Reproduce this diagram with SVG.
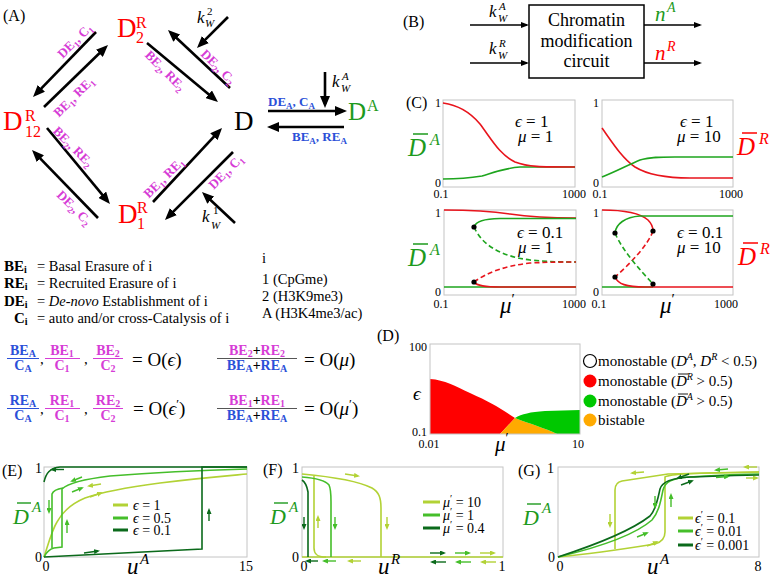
<svg xmlns="http://www.w3.org/2000/svg" width="773" height="580" viewBox="0 0 773 580">
<style>
text{font-family:"Liberation Serif","DejaVu Serif",serif;fill:#000}
.i{font-style:italic}
.b{font-weight:bold}
.mg{fill:#d63cd6;font-weight:bold;font-size:13px}
.mgf{fill:#d63cd6;font-weight:bold}
.bl{fill:#2b50d8;font-weight:bold}
.red{fill:#ff0000}
.grn{fill:#1d9a1d}
.ax{font-size:12px}
.ax2{font-size:14px}
.frame{fill:none;stroke:#c4c4c4;stroke-width:1}
.ar{stroke:#000;stroke-width:2.6;fill:none;marker-end:url(#ah)}
.ar2{stroke:#000;stroke-width:1.3;fill:none;marker-end:url(#ah2)}
.cr{fill:none;stroke:#e8141c;stroke-width:1.6}
.cg{fill:none;stroke:#1ea51e;stroke-width:1.6}
.dash{stroke-dasharray:5 3}
.lL{fill:none;stroke:#b2d235;stroke-width:1.6}
.lM{fill:none;stroke:#45be2a;stroke-width:1.6}
.lD{fill:none;stroke:#0b6a1b;stroke-width:1.6}
.aL{stroke:#b2d235;stroke-width:1.4;marker-end:url(#sL)}
.aM{stroke:#45be2a;stroke-width:1.4;marker-end:url(#sM)}
.aD{stroke:#0b6a1b;stroke-width:1.4;marker-end:url(#sD)}
</style>
<defs>
<marker id="ah" markerUnits="userSpaceOnUse" markerWidth="12" markerHeight="10" viewBox="0 0 12 10" refX="8" refY="5" orient="auto"><path d="M0,0 L12,5 L0,10 Z" fill="#000"/></marker>
<marker id="ah2" markerUnits="userSpaceOnUse" markerWidth="8" markerHeight="6" viewBox="0 0 8 6" refX="6" refY="3" orient="auto"><path d="M0,0 L8,3 L0,6 Z" fill="#000"/></marker>
<marker id="sL" markerUnits="userSpaceOnUse" markerWidth="6" markerHeight="5" viewBox="0 0 6 5" refX="4" refY="2.5" orient="auto"><path d="M0,0 L6,2.5 L0,5 Z" fill="#b2d235"/></marker>
<marker id="sM" markerUnits="userSpaceOnUse" markerWidth="6" markerHeight="5" viewBox="0 0 6 5" refX="4" refY="2.5" orient="auto"><path d="M0,0 L6,2.5 L0,5 Z" fill="#45be2a"/></marker>
<marker id="sD" markerUnits="userSpaceOnUse" markerWidth="6" markerHeight="5" viewBox="0 0 6 5" refX="4" refY="2.5" orient="auto"><path d="M0,0 L6,2.5 L0,5 Z" fill="#0b6a1b"/></marker>
</defs>
<rect width="773" height="580" fill="#fff"/>

<!-- Panel A -->
<text x="3" y="21" font-size="16">(A)</text>
<g id="node-D2R"><text class="red" x="117" y="37" font-size="27">D</text><text class="red" x="136" y="28" font-size="16">R</text><text class="red" x="136" y="43" font-size="16">2</text></g>
<g id="node-D12R"><text class="red" x="3" y="130" font-size="27">D</text><text class="red" x="25" y="121" font-size="16">R</text><text class="red" x="25" y="137" font-size="16">12</text></g>
<g id="node-D1R"><text class="red" x="118" y="223" font-size="27">D</text><text class="red" x="137" y="213" font-size="16">R</text><text class="red" x="137" y="229" font-size="16">1</text></g>
<g id="node-D"><text x="234" y="130" font-size="27">D</text></g>
<g id="node-DA"><text class="grn" x="348" y="120" font-size="25">D</text><text class="grn" x="367" y="111" font-size="16">A</text></g>

<g id="connectors">
<line class="ar" x1="96" y1="32" x2="35.8" y2="94.1"/>
<line class="ar" x1="44" y1="107" x2="105.1" y2="47.8"/>
<line class="ar" x1="230" y1="88" x2="170.9" y2="32.7"/>
<line class="ar" x1="147" y1="43" x2="214.9" y2="99.4"/>
<line class="ar" x1="98" y1="218" x2="34.8" y2="152.9"/>
<line class="ar" x1="47" y1="128" x2="107.4" y2="200.9"/>
<line class="ar" x1="153" y1="202" x2="219.3" y2="130.9"/>
<line class="ar" x1="233" y1="152" x2="167.8" y2="217.2"/>
<line class="ar" x1="228" y1="17" x2="199.8" y2="45.2"/>
<line class="ar" x1="235" y1="223" x2="204.9" y2="194.7"/>
<line class="ar" x1="268" y1="111" x2="343" y2="111"/>
<line class="ar" x1="344" y1="127" x2="271" y2="127"/>
<line class="ar" x1="325" y1="72" x2="325" y2="104"/>
<!-- edge labels -->
<text class="mg" text-anchor="middle" transform="translate(75,41) rotate(-45)" y="4">DE<tspan font-size="9" dy="3">1</tspan><tspan dy="-3">, C</tspan><tspan font-size="9" dy="3">1</tspan></text>
<text class="mg" text-anchor="middle" transform="translate(74,97) rotate(-45)" y="4">BE<tspan font-size="9" dy="3">1</tspan><tspan dy="-3">, RE</tspan><tspan font-size="9" dy="3">1</tspan></text>
<text class="mg" text-anchor="middle" transform="translate(165,71) rotate(45)" y="4">BE<tspan font-size="9" dy="3">2</tspan><tspan dy="-3">, RE</tspan><tspan font-size="9" dy="3">2</tspan></text>
<text class="mg" text-anchor="middle" transform="translate(218,67) rotate(45)" y="4">DE<tspan font-size="9" dy="3">2</tspan><tspan dy="-3">, C</tspan><tspan font-size="9" dy="3">2</tspan></text>
<text class="mg" text-anchor="middle" transform="translate(73,147) rotate(45)" y="4">BE<tspan font-size="9" dy="3">2</tspan><tspan dy="-3">, RE</tspan><tspan font-size="9" dy="3">2</tspan></text>
<text class="mg" text-anchor="middle" transform="translate(74,208) rotate(45)" y="4">DE<tspan font-size="9" dy="3">2</tspan><tspan dy="-3">, C</tspan><tspan font-size="9" dy="3">2</tspan></text>
<text class="mg" text-anchor="middle" transform="translate(164,178) rotate(-45)" y="4">BE<tspan font-size="9" dy="3">1</tspan><tspan dy="-3">, RE</tspan><tspan font-size="9" dy="3">1</tspan></text>
<text class="mg" text-anchor="middle" transform="translate(226,172) rotate(-45)" y="4">DE<tspan font-size="9" dy="3">1</tspan><tspan dy="-3">, C</tspan><tspan font-size="9" dy="3">1</tspan></text>
<text class="bl" x="268" y="106" font-size="13">DE<tspan font-size="9" dy="3">A</tspan><tspan dy="-3">, C</tspan><tspan font-size="9" dy="3">A</tspan></text>
<text class="bl" x="292" y="141" font-size="13">BE<tspan font-size="9" dy="3">A</tspan><tspan dy="-3">, RE</tspan><tspan font-size="9" dy="3">A</tspan></text>
<!-- k labels -->
<text class="i" x="197" y="23" font-size="17">k</text><text x="207" y="15" font-size="11">2</text><text class="i" x="205" y="27" font-size="11">W</text>
<text class="i" x="202" y="222" font-size="17">k</text><text x="213" y="214" font-size="11">1</text><text class="i" x="211" y="229" font-size="11">W</text>
<text class="i" x="332" y="87" font-size="17">k</text><text class="i" x="342" y="80" font-size="11">A</text><text class="i" x="341" y="92" font-size="11">W</text>
</g>

<!-- Legend of A -->
<g id="legend-A">
<text class="b" x="4" y="271" font-size="15">BE<tspan font-size="10" dy="2">i</tspan></text><text x="37" y="271" font-size="14.5">= Basal Erasure of i</text>
<text class="b" x="4" y="288" font-size="15">RE<tspan font-size="10" dy="2">i</tspan></text><text x="37" y="288" font-size="14.5">= Recruited Erasure of i</text>
<text class="b" x="4" y="306" font-size="15">DE<tspan font-size="10" dy="2">i</tspan></text><text x="37" y="306" font-size="14.5">= <tspan class="i">De-novo</tspan> Establishment of i</text>
<text class="b" x="14" y="323" font-size="15">C<tspan font-size="10" dy="2">i</tspan></text><text x="37" y="323" font-size="14.5">= auto and/or cross-Catalysis of i</text>
<text x="262" y="263" font-size="14.5">i</text>
<text x="262" y="284" font-size="14.5">1 (CpGme)</text>
<text x="262" y="301" font-size="14.5">2 (H3K9me3)</text>
<text x="262" y="318" font-size="14.5">A (H3K4me3/ac)</text>
</g>

<g id="formulas">
<text class="bl" x="23" y="355" font-size="14" text-anchor="middle">BE<tspan font-size="10" dy="2">A</tspan></text>
<line x1="7" y1="358.5" x2="39" y2="358.5" stroke="#2b50d8" stroke-width="1"/>
<text class="bl" x="23" y="370" font-size="14" text-anchor="middle">C<tspan font-size="10" dy="2">A</tspan></text>
<text x="40" y="364" font-size="15">,</text>
<text class="mgf" x="62" y="355" font-size="14" text-anchor="middle">BE<tspan font-size="10" dy="2">1</tspan></text>
<line x1="45" y1="358.5" x2="80" y2="358.5" stroke="#d63cd6" stroke-width="1"/>
<text class="mgf" x="62" y="370" font-size="14" text-anchor="middle">C<tspan font-size="10" dy="2">1</tspan></text>
<text x="84" y="364" font-size="15">,</text>
<text class="mgf" x="108" y="355" font-size="14" text-anchor="middle">BE<tspan font-size="10" dy="2">2</tspan></text>
<line x1="93" y1="358.5" x2="123" y2="358.5" stroke="#d63cd6" stroke-width="1"/>
<text class="mgf" x="108" y="370" font-size="14" text-anchor="middle">C<tspan font-size="10" dy="2">2</tspan></text>
<text x="132" y="366" font-size="19">= O(<tspan class="i">ϵ</tspan>)</text>

<text class="bl" x="23" y="405" font-size="14" text-anchor="middle">RE<tspan font-size="10" dy="2">A</tspan></text>
<line x1="7" y1="408.5" x2="39" y2="408.5" stroke="#2b50d8" stroke-width="1"/>
<text class="bl" x="23" y="420" font-size="14" text-anchor="middle">C<tspan font-size="10" dy="2">A</tspan></text>
<text x="40" y="414" font-size="15">,</text>
<text class="mgf" x="62" y="405" font-size="14" text-anchor="middle">RE<tspan font-size="10" dy="2">1</tspan></text>
<line x1="45" y1="408.5" x2="80" y2="408.5" stroke="#d63cd6" stroke-width="1"/>
<text class="mgf" x="62" y="420" font-size="14" text-anchor="middle">C<tspan font-size="10" dy="2">1</tspan></text>
<text x="84" y="414" font-size="15">,</text>
<text class="mgf" x="108" y="405" font-size="14" text-anchor="middle">RE<tspan font-size="10" dy="2">2</tspan></text>
<line x1="93" y1="408.5" x2="123" y2="408.5" stroke="#d63cd6" stroke-width="1"/>
<text class="mgf" x="108" y="420" font-size="14" text-anchor="middle">C<tspan font-size="10" dy="2">2</tspan></text>
<text x="133" y="415" font-size="19">= O(<tspan class="i">ϵ</tspan><tspan font-size="13" dy="-7">′</tspan><tspan dy="7">)</tspan></text>

<text x="257" y="355" font-size="14" text-anchor="middle" class="b"><tspan class="mgf">BE</tspan><tspan class="mgf" font-size="10" dy="2">2</tspan><tspan dy="-2">+</tspan><tspan class="mgf">RE</tspan><tspan class="mgf" font-size="10" dy="2">2</tspan></text>
<line x1="217" y1="358.5" x2="297" y2="358.5" stroke="#555" stroke-width="1"/>
<text x="257" y="370" font-size="14" text-anchor="middle" class="b"><tspan class="bl">BE</tspan><tspan class="bl" font-size="10" dy="2">A</tspan><tspan dy="-2">+</tspan><tspan class="bl">RE</tspan><tspan class="bl" font-size="10" dy="2">A</tspan></text>
<text x="304" y="366" font-size="19">= O(<tspan class="i">μ</tspan>)</text>
<text x="257" y="405" font-size="14" text-anchor="middle" class="b"><tspan class="mgf">BE</tspan><tspan class="mgf" font-size="10" dy="2">1</tspan><tspan dy="-2">+</tspan><tspan class="mgf">RE</tspan><tspan class="mgf" font-size="10" dy="2">1</tspan></text>
<line x1="217" y1="408.5" x2="297" y2="408.5" stroke="#555" stroke-width="1"/>
<text x="257" y="420" font-size="14" text-anchor="middle" class="b"><tspan class="bl">BE</tspan><tspan class="bl" font-size="10" dy="2">A</tspan><tspan dy="-2">+</tspan><tspan class="bl">RE</tspan><tspan class="bl" font-size="10" dy="2">A</tspan></text>
<text x="304" y="415" font-size="19">= O(<tspan class="i">μ</tspan><tspan font-size="13" dy="-7">′</tspan><tspan dy="7">)</tspan></text>
</g>

<!-- Panel B -->
<g id="panel-B">
<text x="403" y="27" font-size="16">(B)</text>
<g id="node-circuit"><rect x="529" y="5" width="115" height="73" fill="#fff" stroke="#000" stroke-width="1.5"/>
<text x="586.5" y="26" font-size="18" text-anchor="middle">Chromatin</text>
<text x="586.5" y="47" font-size="18" text-anchor="middle">modification</text>
<text x="586.5" y="67" font-size="18" text-anchor="middle">circuit</text></g>
<line class="ar2" x1="470" y1="25" x2="527" y2="25"/>
<line class="ar2" x1="470" y1="63" x2="527" y2="63"/>
<line class="ar2" x1="644" y1="25" x2="700" y2="25"/>
<line class="ar2" x1="644" y1="63" x2="700" y2="63"/>
<text class="i" x="489" y="17" font-size="17">k</text><text class="i" x="499" y="10" font-size="11">A</text><text class="i" x="498" y="22" font-size="11">W</text>
<text class="i" x="489" y="54" font-size="17">k</text><text class="i" x="499" y="47" font-size="11">R</text><text class="i" x="498" y="59" font-size="11">W</text>
<text class="i grn" x="655" y="21" font-size="21">n</text><text class="i grn" x="667" y="12" font-size="14">A</text>
<text class="i red" x="655" y="60" font-size="21">n</text><text class="i red" x="667" y="51" font-size="14">R</text>
</g>

<!-- Panel C -->
<g id="panel-C">
<text x="406" y="108" font-size="16">(C)</text>
<rect class="frame" x="443" y="100" width="132" height="87"/>
<rect class="frame" x="602" y="100" width="131" height="87"/>
<rect class="frame" x="444" y="210" width="132" height="85"/>
<rect class="frame" x="602" y="210" width="131" height="85"/>
<g class="ax">
<text x="441" y="107" text-anchor="end">1</text><text x="441" y="187" text-anchor="end">0</text>
<text x="441" y="198" text-anchor="middle">0.1</text><text x="574" y="198" text-anchor="middle">1000</text>
<text x="599" y="107" text-anchor="end">1</text><text x="599" y="187" text-anchor="end">0</text>
<text x="600" y="198" text-anchor="middle">0.1</text><text x="731" y="198" text-anchor="middle">1000</text>
<text x="441" y="217" text-anchor="end">1</text><text x="441" y="296" text-anchor="end">0</text>
<text x="441" y="308" text-anchor="middle">0.1</text><text x="574" y="308" text-anchor="middle">1000</text>
<text x="599" y="217" text-anchor="end">1</text><text x="599" y="296" text-anchor="end">0</text>
<text x="599" y="308" text-anchor="middle">0.1</text><text x="726" y="308" text-anchor="middle">1000</text>
</g>
<!-- plot 1 -->
<path class="cg" d="M443,179 C460,179 470,178 482,176 C495,172 505,168 520,167 L575,167"/>
<path class="cr" d="M443,103 C458,105 470,112 480,124 C492,140 500,155 515,162 C528,167 540,167 575,167"/>
<!-- plot 2 -->
<path class="cr" d="M602,128 C612,142 622,158 635,167 C648,175 665,178 690,178 L733,178"/>
<path class="cg" d="M602,177 C615,172 628,165 640,160 C650,157 660,157 675,157 L733,157"/>
<!-- plot 3 -->
<path class="cr" d="M444,210 C470,210 490,211 510,214 C530,217 545,218 576,218"/>
<path class="cg" d="M474,227 C476,221 484,219 500,218.5 L576,218.5"/>
<path class="cg dash" d="M474,227 C482,245 500,256 530,260 C550,262 565,262 576,262"/>
<path class="cr dash" d="M474,282 C488,272 505,266 530,263 C550,262 565,262 576,262"/>
<path class="cg" d="M444,287 L576,287"/>
<path class="cr" d="M474,282 C477,286 485,287 500,287 L576,287"/>
<circle cx="474" cy="227" r="2.6"/><circle cx="474" cy="282" r="2.6"/>
<!-- plot 4 -->
<path class="cr" d="M602,210 C625,210 640,213 648,220 C652,224 653,228 653,231"/>
<path class="cr dash" d="M653,231 C648,245 630,264 615,277"/>
<path class="cg" d="M602,287 L653,287"/>
<path class="cr" d="M615,277 C618,284 626,287 645,287 L733,287"/>
<path class="cg" d="M615,233 C616,224 625,217 640,216 L733,216"/>
<path class="cg dash" d="M615,233 C622,250 640,270 653,284"/>
<circle cx="615" cy="233" r="2.6"/><circle cx="653" cy="231" r="2.6"/><circle cx="615" cy="277" r="2.6"/><circle cx="653" cy="284" r="2.6"/>
<!-- parameters -->
<g font-size="17">
<text x="515" y="127"><tspan class="i">ϵ</tspan> = 1</text><text x="518" y="142"><tspan class="i">μ</tspan> = 1</text>
<text x="680" y="127"><tspan class="i">ϵ</tspan> = 1</text><text x="677" y="142"><tspan class="i">μ</tspan> = 10</text>
<text x="517" y="238"><tspan class="i">ϵ</tspan> = 0.1</text><text x="518" y="253"><tspan class="i">μ</tspan> = 1</text>
<text x="677" y="238"><tspan class="i">ϵ</tspan> = 0.1</text><text x="677" y="253"><tspan class="i">μ</tspan> = 10</text>
</g>
<!-- axis names -->
<text class="i grn" x="408" y="156" font-size="25">D</text><text class="i grn" x="430" y="145" font-size="16">A</text><line x1="413" y1="134" x2="428" y2="134" stroke="#1d9a1d" stroke-width="1.5"/>
<text class="i red" x="737" y="155" font-size="25">D</text><text class="i red" x="759" y="144" font-size="16">R</text><line x1="742" y1="133" x2="757" y2="133" stroke="#ff0000" stroke-width="1.5"/>
<text class="i grn" x="408" y="266" font-size="25">D</text><text class="i grn" x="430" y="255" font-size="16">A</text><line x1="413" y1="244" x2="428" y2="244" stroke="#1d9a1d" stroke-width="1.5"/>
<text class="i red" x="738" y="265" font-size="25">D</text><text class="i red" x="760" y="254" font-size="16">R</text><line x1="743" y1="243" x2="758" y2="243" stroke="#ff0000" stroke-width="1.5"/>
<text class="i" x="500" y="313" font-size="23">μ<tspan font-style="normal" font-size="15" dy="-9">′</tspan></text>
<text class="i" x="660" y="313" font-size="23">μ<tspan font-style="normal" font-size="15" dy="-9">′</tspan></text>
</g>

<!-- Panel D -->
<g id="panel-D">
<text x="377" y="341" font-size="16">(D)</text>
<path d="M430,379 C445,380 455,386 470,393 C490,402 500,408 515,418 L500,434 L430,434 Z" fill="#ff0000"/>
<path d="M515,418 L500,434 L557,434 C545,428 530,424 515,418 Z" fill="#ffaa00"/>
<path d="M515,418 C522,414 530,412 545,411 L580,410 L580,434 L557,434 C545,428 530,424 515,418 Z" fill="#00c800"/>
<rect class="frame" x="430" y="344" width="150" height="90"/>
<g class="ax">
<text x="427" y="351" text-anchor="end">100</text>
<text x="427" y="436" text-anchor="end">0.1</text>
<text x="429" y="448" text-anchor="middle">0.01</text>
<text x="578" y="448" text-anchor="middle">10</text>
</g>
<text class="i" x="413" y="400" font-size="19">ϵ</text>
<text class="i" x="495" y="451" font-size="21">μ<tspan font-style="normal" font-size="14" dy="-8">′</tspan></text>
<circle cx="590" cy="361" r="6.5" fill="#fff" stroke="#000" stroke-width="1.2"/>
<circle cx="590" cy="381" r="6.5" fill="#ff0000"/>
<circle cx="590" cy="401" r="6.5" fill="#00c800"/>
<circle cx="590" cy="420" r="6.5" fill="#ffaa00"/>
<g font-size="15">
<text x="598" y="366">monostable (<tspan class="i">D</tspan><tspan class="i" font-size="10" dy="-6">A</tspan><tspan dy="6">, </tspan><tspan class="i">D</tspan><tspan class="i" font-size="10" dy="-6">R</tspan><tspan dy="6"> &lt; 0.5)</tspan></text>
<text x="598" y="386">monostable (<tspan class="i">D</tspan><tspan class="i" font-size="10" dy="-6">R</tspan><tspan dy="6"> &gt; 0.5)</tspan></text>
<text x="598" y="406">monostable (<tspan class="i">D</tspan><tspan class="i" font-size="10" dy="-6">A</tspan><tspan dy="6"> &gt; 0.5)</tspan></text>
<text x="598" y="425">bistable</text>
</g>
<line x1="678" y1="374" x2="688" y2="374" stroke="#000" stroke-width="0.9"/>
<line x1="678" y1="394" x2="688" y2="394" stroke="#000" stroke-width="0.9"/>
</g>

<!-- Panel E -->
<g id="panel-E">
<text x="2" y="476" font-size="16">(E)</text>
<rect class="frame" x="44" y="467" width="203" height="90"/>
<g class="ax2"><text x="42" y="473" text-anchor="end">1</text><text x="42" y="562" text-anchor="end">0</text><text x="46" y="571" text-anchor="middle">0</text><text x="246" y="571" text-anchor="middle">15</text></g>
<path class="lL" d="M44,557 C48,545 52,530 57,522 C63,511 73,503 85,498 C105,491 130,487 160,483 C200,478 225,476 247,474"/>
<path class="lM" d="M44,557 C47,551 50,549 54,548 L62,547 L62,489 C68,483 85,479 110,476 C160,472 210,470 247,469"/>
<path class="lM" d="M63,488 C57,489 53,491 52,494 L52,548"/>
<path class="lD" d="M44,557 L202,549 L202,467 L247,467"/>
<path class="lD" d="M247,467 L60,467 C50,468 46,473 44,482"/>
<line class="aD" x1="84" y1="553" x2="98" y2="551"/>
<line class="aD" x1="209" y1="521" x2="209" y2="510"/>
<line class="aD" x1="64" y1="469.5" x2="52" y2="469.5"/>
<line class="aM" x1="67" y1="533" x2="67" y2="521"/>
<line class="aM" x1="49" y1="500" x2="49" y2="512"/>
<line class="aM" x1="82" y1="477" x2="72" y2="481"/>
<line class="aM" x1="72" y1="492" x2="82" y2="488"/>
<line class="aL" x1="101" y1="484" x2="89" y2="486"/>
<line class="aL" x1="90" y1="497" x2="101" y2="493"/>
<line x1="113" y1="505" x2="128" y2="505" stroke="#b2d235" stroke-width="3"/>
<line x1="113" y1="518" x2="128" y2="518" stroke="#45be2a" stroke-width="3"/>
<line x1="113" y1="530" x2="128" y2="530" stroke="#0b6a1b" stroke-width="3"/>
<g font-size="14"><text x="133" y="509.5"><tspan class="i">ϵ</tspan> = 1</text><text x="133" y="522.5"><tspan class="i">ϵ</tspan> = 0.5</text><text x="133" y="534.5"><tspan class="i">ϵ</tspan> = 0.1</text></g>
<text class="i grn" x="13" y="524" font-size="22">D</text><text class="i grn" x="32" y="512" font-size="15">A</text><line x1="17" y1="503" x2="31" y2="503" stroke="#1d9a1d" stroke-width="1.4"/>
<text class="i" x="127" y="574" font-size="23">u</text><text class="i" x="140" y="564" font-size="15">A</text>
</g>

<!-- Panel F -->
<g id="panel-F">
<text x="263" y="475" font-size="16">(F)</text>
<rect class="frame" x="302" y="467" width="201" height="90"/>
<g class="ax2"><text x="299" y="473" text-anchor="end">1</text><text x="299" y="562" text-anchor="end">0</text><text x="304" y="571" text-anchor="middle">0</text><text x="502" y="571" text-anchor="middle">1</text></g>
<path class="lL" d="M302,557 L503,557"/>
<path class="lL" d="M302,474 C335,477 360,482 372,488 C379,492 381,498 381,508 L381,557"/>
<path class="lL" d="M326,557 C317,557 314,554 314,548 L314,476"/>
<path class="lM" d="M302,477 C315,478 325,480 329,485 C331,489 331,495 331,502 L331,557"/>
<path class="lD" d="M302,480 C305,482 307,486 308,492 L308,557"/>
<line class="aL" x1="345" y1="474" x2="358" y2="476"/>
<line class="aL" x1="387" y1="517" x2="387" y2="528"/>
<line class="aL" x1="318" y1="528" x2="318" y2="517"/>
<line class="aM" x1="335" y1="517" x2="335" y2="528"/>
<line class="aD" x1="304" y1="517" x2="304" y2="528"/>
<line class="aD" x1="318" y1="561" x2="307" y2="561"/>
<line class="aM" x1="336" y1="561" x2="324" y2="561"/>
<line class="aL" x1="361" y1="561" x2="349" y2="561"/>
<line class="aD" x1="430" y1="553" x2="444" y2="553"/>
<line class="aM" x1="455" y1="553" x2="469" y2="553"/>
<line class="aL" x1="480" y1="553" x2="494" y2="553"/>
<line class="aD" x1="446" y1="562" x2="432" y2="562"/>
<line class="aM" x1="471" y1="562" x2="457" y2="562"/>
<line class="aL" x1="496" y1="562" x2="482" y2="562"/>
<line x1="423" y1="502" x2="440" y2="502" stroke="#b2d235" stroke-width="3"/>
<line x1="423" y1="515" x2="440" y2="515" stroke="#45be2a" stroke-width="3"/>
<line x1="423" y1="528" x2="440" y2="528" stroke="#0b6a1b" stroke-width="3"/>
<g font-size="14"><text x="443" y="506.5"><tspan class="i">μ</tspan><tspan font-size="10" dy="-5">′</tspan><tspan dy="5"> = 10</tspan></text><text x="443" y="519.5"><tspan class="i">μ</tspan><tspan font-size="10" dy="-5">′</tspan><tspan dy="5"> = 1</tspan></text><text x="443" y="532.5"><tspan class="i">μ</tspan><tspan font-size="10" dy="-5">′</tspan><tspan dy="5"> = 0.4</tspan></text></g>
<text class="i grn" x="270" y="524" font-size="22">D</text><text class="i grn" x="289" y="512" font-size="15">A</text><line x1="274" y1="503" x2="288" y2="503" stroke="#1d9a1d" stroke-width="1.4"/>
<text class="i" x="378" y="574" font-size="23">u</text><text class="i" x="391" y="564" font-size="15">R</text>
</g>

<!-- Panel G -->
<g id="panel-G">
<text x="518" y="476" font-size="16">(G)</text>
<rect class="frame" x="558" y="467" width="201" height="90"/>
<g class="ax2"><text x="554" y="473" text-anchor="end">1</text><text x="555" y="562" text-anchor="end">0</text><text x="560" y="571" text-anchor="middle">0</text><text x="758" y="571" text-anchor="middle">8</text></g>
<path class="lL" d="M558,557 C590,554 630,548 655,544 C662,542 665,538 665,532 L665,477 C670,474 690,473 759,472"/>
<path class="lL" d="M759,472 L668,474 L622,481 C617,482 615,485 615,490 L615,549"/>
<path class="lM" d="M558,557 C600,547 635,535 652,520 C659,512 661,500 663,490 C665,482 672,478 690,477 C720,475 740,474 759,474"/>
<path class="lD" d="M558,557 C598,544 632,530 650,516 C656,510 658,498 660,489 C662,482 670,478 690,477 C720,476 740,475 759,475"/>
<line class="aL" x1="644" y1="472" x2="632" y2="473"/>
<line class="aL" x1="757" y1="467" x2="745" y2="467"/>
<line class="aM" x1="728" y1="469" x2="716" y2="470"/>
<line class="aM" x1="716" y1="477.5" x2="728" y2="476.5"/>
<line class="aL" x1="746" y1="478" x2="757" y2="478"/>
<line class="aD" x1="689" y1="474" x2="678" y2="478"/>
<line class="aD" x1="681" y1="485" x2="692" y2="481"/>
<line class="aL" x1="610" y1="514" x2="610" y2="526"/>
<line class="aM" x1="655" y1="496" x2="655" y2="507"/>
<line class="aM" x1="671" y1="507" x2="671" y2="495"/>
<line class="aM" x1="637" y1="537" x2="647" y2="533"/>
<line class="aL" x1="647" y1="546" x2="657" y2="542"/>
<line x1="678" y1="518" x2="693" y2="518" stroke="#b2d235" stroke-width="3"/>
<line x1="678" y1="531" x2="693" y2="531" stroke="#45be2a" stroke-width="3"/>
<line x1="678" y1="545" x2="693" y2="545" stroke="#0b6a1b" stroke-width="3"/>
<g font-size="14"><text x="695" y="522.5"><tspan class="i">ϵ</tspan><tspan font-size="10" dy="-5">′</tspan><tspan dy="5"> = 0.1</tspan></text><text x="695" y="535.5"><tspan class="i">ϵ</tspan><tspan font-size="10" dy="-5">′</tspan><tspan dy="5"> = 0.01</tspan></text><text x="695" y="549.5"><tspan class="i">ϵ</tspan><tspan font-size="10" dy="-5">′</tspan><tspan dy="5"> = 0.001</tspan></text></g>
<text class="i grn" x="523" y="525" font-size="22">D</text><text class="i grn" x="542" y="513" font-size="15">A</text><line x1="527" y1="504" x2="541" y2="504" stroke="#1d9a1d" stroke-width="1.4"/>
<text class="i" x="647" y="574" font-size="23">u</text><text class="i" x="660" y="564" font-size="15">A</text>
</g>
</svg>
